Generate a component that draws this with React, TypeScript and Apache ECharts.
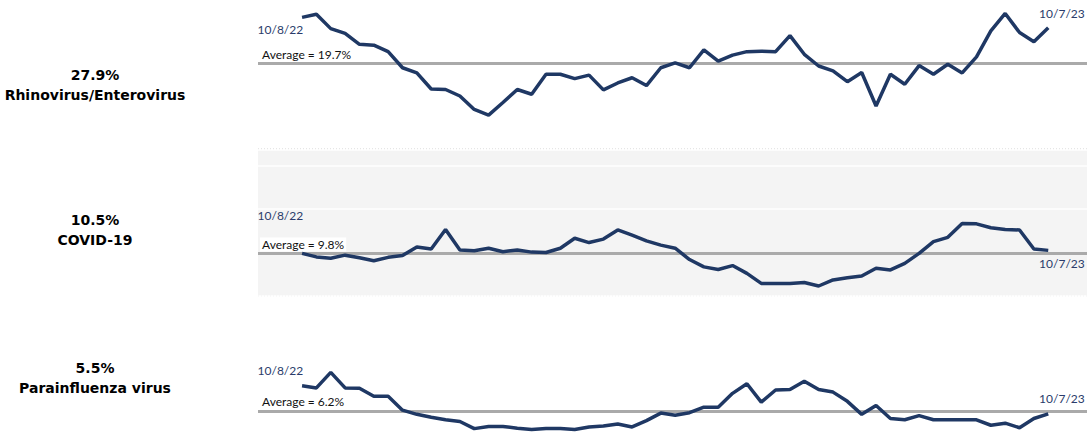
import { useEffect, useRef } from "react";
import * as echarts from "echarts";

const names = ["Rhinovirus/Enterovirus", "COVID-19", "Parainfluenza virus"];
const latest = ["27.9%", "10.5%", "5.5%"];
const averages = [19.7, 9.8, 6.2];
const startLabel = "10/8/22";
const endLabel = "10/7/23";

const rhino = [30.3, 31.0, 27.7, 26.6, 24.1, 23.9, 22.4, 18.7, 17.5, 13.8, 13.7, 12.2, 9.1, 7.8, 10.7, 13.7, 12.6, 17.2, 17.2, 16.2, 17.0, 13.6, 15.2, 16.4, 14.6, 18.7, 19.8, 18.7, 22.8, 20.2, 21.6, 22.4, 22.5, 22.4, 26.1, 21.8, 19.1, 18.0, 15.5, 17.6, 9.9, 17.2, 14.9, 19.2, 17.2, 19.5, 17.5, 21.2, 27.2, 31.2, 26.8, 24.7, 27.9];
const covid = [9.8, 9.0, 8.7, 9.4, 8.8, 8.1, 8.9, 9.3, 11.3, 10.8, 15.3, 10.6, 10.4, 11.0, 10.2, 10.6, 10.1, 10.0, 11.0, 13.3, 12.3, 13.1, 15.2, 14.0, 12.7, 11.7, 11.0, 8.4, 6.7, 6.1, 7.0, 5.2, 2.9, 2.9, 2.9, 3.1, 2.3, 3.7, 4.2, 4.6, 6.4, 6.0, 7.5, 9.8, 12.5, 13.5, 16.7, 16.6, 15.7, 15.3, 15.2, 10.8, 10.5];
const para = [12.2, 11.7, 15.4, 11.7, 11.6, 9.7, 9.7, 6.4, 5.4, 4.7, 4.1, 3.7, 2.0, 2.5, 2.5, 2.1, 1.8, 2.0, 2.0, 1.8, 2.4, 2.6, 3.1, 2.4, 3.9, 5.7, 5.2, 5.8, 7.1, 7.1, 10.4, 12.7, 8.3, 11.2, 11.3, 13.3, 11.3, 10.7, 8.5, 5.4, 7.5, 4.4, 4.1, 5.1, 4.1, 4.1, 4.1, 4.1, 2.8, 3.3, 2.2, 4.4, 5.5];
const seriesValues = [rhino, covid, para];

const startOffsets = [[-44, 7], [-44, -43], [-44, -21]];
const endOffsets = [[37, -20], [37, 8], [37, -21]];
const tops = [3, 150, 296];
const PANEL_H = 146;

export default function App() {
  const ref = useRef<HTMLDivElement>(null);

  useEffect(() => {
    document.body.style.margin = "0";
    if (!ref.current) return;
    const chart = echarts.init(ref.current, null, { renderer: "svg" });
    const dateLabel = { show: true, color: "#2a3c6b", fontFamily: "Lato", fontSize: 12 };

    chart.setOption({
      animation: false,
      backgroundColor: "#ffffff",
      grid: tops.map((t, i) => ({
        left: 258,
        right: 0,
        top: t,
        height: PANEL_H,
        show: i === 1,
        backgroundColor: "#f4f4f4",
        borderWidth: 0,
      })),
      xAxis: tops.map((_, i) => ({
        type: "value",
        gridIndex: i,
        min: -3.07,
        max: 54.7,
        show: false,
      })),
      yAxis: tops.map((_, i) => ({
        type: "value",
        gridIndex: i,
        min: 0,
        max: 33.6,
        interval: 10,
        axisLine: { show: false },
        axisTick: { show: false },
        axisLabel: { show: false },
        splitLine: { show: i === 1, lineStyle: { color: "#ffffff", width: 1.5 } },
      })),
      series: seriesValues.map((vals, i) => ({
        type: "line",
        xAxisIndex: i,
        yAxisIndex: i,
        symbol: "circle",
        symbolSize: 1,
        itemStyle: { color: "rgba(0,0,0,0)" },
        lineStyle: { color: "#1f3864", width: 3.5 },
        z: 3,
        data: vals.map((v, j) => {
          if (j === 0)
            return { value: [j, v], label: { ...dateLabel, formatter: startLabel, position: startOffsets[i] } };
          if (j === vals.length - 1)
            return {
              value: [j, v],
              label: { ...dateLabel, formatter: endLabel, position: endOffsets[i], align: "right" },
            };
          return [j, v];
        }),
        markLine: {
          symbol: "none",
          silent: true,
          lineStyle: { color: "#aaaaaa", width: 3, type: "solid" },
          label: {
            position: "insideStartTop",
            formatter: `Average = ${averages[i]}%`,
            color: "#111",
            fontFamily: "Lato",
            fontSize: 12,
            backgroundColor: "#ffffff",
            padding: [1, 2],
            distance: [2, 2],
          },
          data: [{ yAxis: averages[i] }],
          z: 1,
        },
      })),
      graphic: [
        ...[149, 296].map((y) => ({
          type: "line",
          shape: { x1: 258, y1: y, x2: 1087, y2: y },
          style: { stroke: "#cccccc", lineWidth: 1, lineDash: [1, 2] },
        })),
        ...names.flatMap((n, i) => [
          {
            type: "text",
            x: 95,
            y: [75, 220, 368][i],
            style: { text: latest[i], font: "bold 14px 'DejaVu Sans'", fill: "#000", textAlign: "center", textVerticalAlign: "middle" },
          },
          {
            type: "text",
            x: 95,
            y: [95, 240, 388][i],
            style: { text: n, font: "bold 14px 'DejaVu Sans'", fill: "#000", textAlign: "center", textVerticalAlign: "middle" },
          },
        ]),
      ],
    });
    return () => chart.dispose();
  }, []);

  return <div ref={ref} style={{ width: 1087, height: 437 }} />;
}
